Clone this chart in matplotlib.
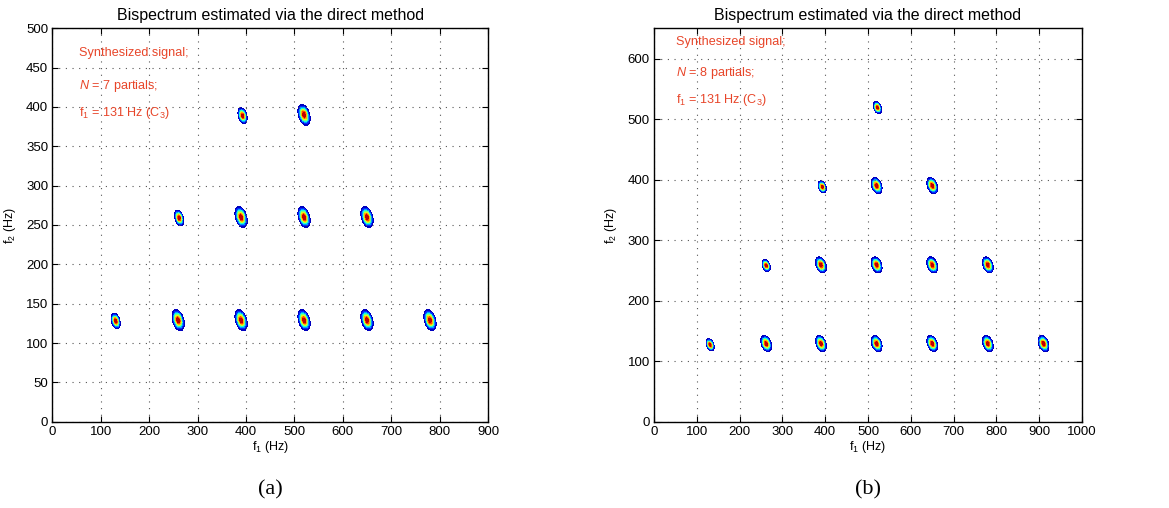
import numpy as np
import matplotlib
matplotlib.use('Agg')
import matplotlib.pyplot as plt

plt.rcParams['font.family'] = 'Liberation Sans'
plt.rcParams['mathtext.fontset'] = 'custom'
plt.rcParams['mathtext.rm'] = 'Liberation Sans'
plt.rcParams['mathtext.it'] = 'Liberation Sans:italic'

# peak positions (f1, f2) in Hz and their spread (Hz)
a_f1 = [131, 260, 390, 520, 650, 780, 262, 390, 520, 650, 393, 520]
a_f2 = [128, 129, 129, 129, 129, 129, 259, 260, 260, 260, 389, 390]
a_size = [4.5, 6, 6, 6, 6, 6, 4.5, 6, 6, 6, 4.5, 6]

b_f1 = [131, 262, 390, 520, 650, 780, 910, 262, 390, 520, 650, 780, 393, 520, 650, 522]
b_f2 = [127, 129, 129, 129, 129, 129, 129, 258, 259, 259, 259, 259, 388, 390, 390, 519]
b_size = [4.5, 6, 6, 6, 6, 6, 6, 4.5, 6, 6, 6, 6, 4.5, 6, 6, 4.5]

panels = [
    dict(f1=a_f1, f2=a_f2, size=a_size, xlim=900, ylim=500, n=7,
         xticks=np.arange(0, 901, 100), yticks=np.arange(0, 501, 50),
         txt_x=55, txt_y=[468, 427, 392], tag='(a)'),
    dict(f1=b_f1, f2=b_f2, size=b_size, xlim=1000, ylim=650, n=8,
         xticks=np.arange(0, 1001, 100), yticks=np.arange(0, 601, 100),
         txt_x=51, txt_y=[628, 576, 531], tag='(b)'),
]
boxes = [[0.0447, 0.1699, 0.3728, 0.7744], [0.5595, 0.1699, 0.3661, 0.7744]]
red = '#e8462a'

fig = plt.figure(figsize=(11.69, 5.08), dpi=100)
for p, box in zip(panels, boxes):
    ax = fig.add_axes(box)
    x = np.linspace(0, p['xlim'], 1001)
    y = np.linspace(0, p['ylim'], 801)
    X, Y = np.meshgrid(x, y)
    Z = np.zeros_like(X)
    for cx, cy, s in zip(p['f1'], p['f2'], p['size']):
        dx = (X - cx) / (s * 1.0)
        dy = (Y - cy) / (s * 1.05)
        q = (dx**2 + dy**2 + 0.7 * dx * dy) / 0.85
        Z = np.maximum(Z, np.exp(-0.5 * q))
    ax.contourf(X, Y, Z, levels=np.linspace(0.1, 1.0, 10), cmap='jet')
    ax.set_xlim(0, p['xlim'])
    ax.set_ylim(0, p['ylim'])
    ax.set_xticks(p['xticks'])
    ax.set_yticks(p['yticks'])
    ax.grid(True, linestyle=(0, (1, 5)), color='#555555', linewidth=0.8)
    ax.tick_params(direction='in', top=True, right=True, labelsize=9.5, length=4, pad=3)
    for sp in ax.spines.values():
        sp.set_linewidth(1.0)
    ax.set_title('Bispectrum estimated via the direct method', fontsize=11.5, pad=6)
    ax.set_xlabel('f$_1$ (Hz)', fontsize=9, labelpad=1)
    ax.set_ylabel('f$_2$ (Hz)', fontsize=9, labelpad=6)
    lines = ['Synthesized signal;', '$N$ = %d partials;' % p['n'], 'f$_1$ = 131 Hz (C$_3$)']
    for t, ty in zip(lines, p['txt_y']):
        ax.text(p['txt_x'], ty, t, color=red, fontsize=9.1, va='center', ha='left')
    fig.text(box[0] + box[2] / 2, 0.035, p['tag'], ha='center', va='center',
             fontsize=16, family='Liberation Serif')

fig.savefig('out.png', dpi=100)
